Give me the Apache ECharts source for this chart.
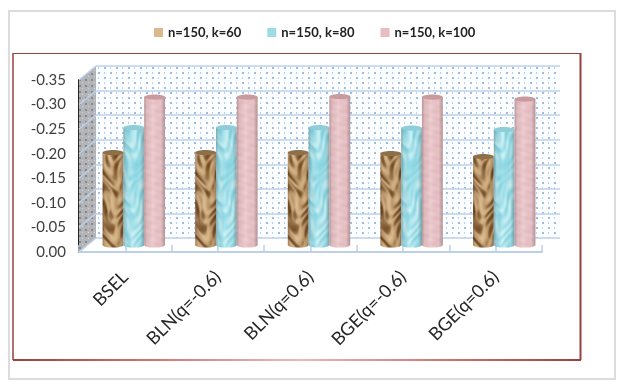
<!DOCTYPE html>
<html>
<head>
<meta charset="utf-8">
<style>html,body{margin:0;padding:0;background:#fff}#app{width:632px;height:385px}</style>
<script src="https://cdn.jsdelivr.net/npm/echarts@6/dist/echarts.min.js"></script>
</head>
<body>
<div id="app"></div>
<script>
const categories = ["BSEL", "BLN(q=-0.6)", "BLN(q=0.6)", "BGE(q=-0.6)", "BGE(q=0.6)"];
const k60 = [-0.188, -0.188, -0.188, -0.186, -0.180];
const k80 = [-0.239, -0.239, -0.239, -0.238, -0.235];
const k100 = [-0.301, -0.301, -0.302, -0.301, -0.297];
const yTicks = [0, -0.05, -0.1, -0.15, -0.2, -0.25, -0.3, -0.35];

const FONT = "Lato";
const GRID_BLUE = "#bcd0ea";

function clamp(v) {
  return Math.max(0, Math.min(255, v));
}

// small repeating textures, the picture's bars are filled with images
function texture(w, h, fn) {
  const c = document.createElement("canvas");
  c.width = w;
  c.height = h;
  const ctx = c.getContext("2d");
  const img = ctx.createImageData(w, h);
  for (let y = 0; y < h; y++) {
    for (let x = 0; x < w; x++) {
      const rgb = fn(x, y);
      const i = (y * w + x) * 4;
      img.data[i] = clamp(rgb[0]);
      img.data[i + 1] = clamp(rgb[1]);
      img.data[i + 2] = clamp(rgb[2]);
      img.data[i + 3] = 255;
    }
  }
  ctx.putImageData(img, 0, 0);
  return c;
}

// layered waves give the crumpled look without visible stripes
function crumple(a, b) {
  const p = a + 0.7 * Math.sin(2 * b + Math.sin(3 * a));
  const q = b + 0.7 * Math.sin(3 * a - Math.sin(2 * b));
  return (
    Math.sin(4 * p + 3 * q) * 0.45 +
    Math.sin(3 * p - 6 * q + 1) * 0.35 +
    Math.sin(9 * q + 2 * p + 2) * 0.2
  );
}

const brownTex = texture(92, 120, (x, y) => {
  const t = crumple((x / 92) * Math.PI * 2, (y / 120) * Math.PI * 2);
  const s = Math.sign(t) * Math.pow(Math.abs(t), 0.7);
  return [170 + 60 * s, 132 + 64 * s, 86 + 60 * s];
});
const blueTex = texture(92, 120, (x, y) => {
  const t = crumple((x / 92) * Math.PI * 2 + 1, (y / 120) * Math.PI * 2 + 2);
  return [160 + 40 * t, 226 + 16 * t, 236 + 10 * t];
});
const pinkTex = texture(92, 60, (x, y) => {
  const a = (x / 92) * Math.PI * 2;
  const b = (y / 60) * Math.PI * 2;
  const t = Math.sin(5 * b + 2 * a + Math.sin(3 * a)) * 0.5 + Math.sin(9 * b - 4 * a) * 0.5;
  return [234 + 4 * t, 196 + 6 * t, 200 + 6 * t];
});

const wallDots = (function () {
  const c = document.createElement("canvas");
  c.width = 24;
  c.height = 20;
  const ctx = c.getContext("2d");
  ctx.fillStyle = "#fdfeff";
  ctx.fillRect(0, 0, 24, 20);
  for (let y = 0; y < 4; y++) {
    for (let x = 0; x < 4; x++) {
      const strong = (x + y) % 2 === 0;
      ctx.fillStyle = strong ? "#9dbde7" : "#c0d4f0";
      ctx.fillRect(x * 6 + 2, y * 5 + 2, strong ? 2 : 1, 2);
    }
  }
  return c;
})();

const sideDots = (function () {
  const c = document.createElement("canvas");
  c.width = 6;
  c.height = 6;
  const ctx = c.getContext("2d");
  ctx.fillStyle = "#b2b4b7";
  ctx.fillRect(0, 0, 6, 6);
  ctx.fillStyle = "#85878b";
  ctx.fillRect(1, 1, 2, 2);
  ctx.fillStyle = "#d4d6d9";
  ctx.fillRect(4, 4, 1, 1);
  return c;
})();

function cylinder(index, tex, topColor) {
  return function (params, api) {
    const cat = api.value(0);
    const base = api.coord([cat, 0]);
    const top = api.coord([cat, api.value(1)]);
    const band = api.size([1, 0])[0];
    const w = band * 0.2245;
    const x = base[0] + (index - 1.5) * w;
    const ry = 2.6;
    const shade = {
      type: "linear", x: 0, y: 0, x2: 1, y2: 0,
      colorStops: [
        { offset: 0, color: "rgba(60,40,40,0.30)" },
        { offset: 0.12, color: "rgba(60,40,40,0.08)" },
        { offset: 0.42, color: "rgba(255,255,255,0.10)" },
        { offset: 0.8, color: "rgba(60,40,40,0.03)" },
        { offset: 1, color: "rgba(60,40,40,0.32)" }
      ]
    };
    const body = { x: x, y: top[1], width: w, height: base[1] - top[1] };
    const foot = { cx: x + w / 2, cy: base[1], rx: w / 2, ry: ry };
    return {
      type: "group",
      children: [
        { type: "ellipse", shape: foot, style: { fill: { image: tex, repeat: "repeat" } } },
        { type: "ellipse", shape: foot, style: { fill: shade } },
        { type: "rect", shape: body, style: { fill: { image: tex, repeat: "repeat" } } },
        { type: "rect", shape: body, style: { fill: shade } },
        { type: "ellipse", shape: { cx: x + w / 2, cy: top[1], rx: w / 2, ry: ry }, style: { fill: topColor } }
      ]
    };
  };
}

function barSeries(name, data, index, tex, legendColor, topColor) {
  return {
    name: name,
    type: "custom",
    xAxisIndex: 2,
    yAxisIndex: 1,
    itemStyle: { color: legendColor },
    encode: { x: 0, y: 1 },
    renderItem: cylinder(index, tex, topColor),
    data: data.map((v, i) => [i, v])
  };
}

const yBase = { type: "value", inverse: true, min: -0.35, max: 0, interval: 0.05 };
const hiddenY = Object.assign({}, yBase, {
  axisLine: { show: false },
  axisTick: { show: false },
  axisLabel: { show: false },
  splitLine: { show: false }
});

const frameDark = "#97413f";

const chart = echarts.init(document.getElementById("app"));
chart.setOption({
  animation: false,
  backgroundColor: "#fff",
  textStyle: { fontFamily: FONT },
  legend: {
    left: 149,
    top: 21,
    itemWidth: 9,
    itemHeight: 9,
    itemGap: 26,
    icon: "rect",
    textStyle: { fontFamily: FONT, fontWeight: "bold", fontSize: 13, color: "#222" },
    data: ["n=150, k=60", "n=150, k=80", "n=150, k=100"]
  },
  grid: [
    { left: 79, width: 463, top: 80, height: 172 },
    { left: 87.5, width: 463, top: 73, height: 172 },
    { left: 96, width: 464, top: 66, height: 172, show: true, borderWidth: 0, backgroundColor: { image: wallDots, repeat: "repeat" } }
  ],
  xAxis: [
    {
      type: "category",
      gridIndex: 0,
      position: "bottom",
      data: categories,
      axisLine: { show: false },
      axisTick: { show: false },
      axisLabel: { rotate: 45, fontSize: 18, color: "#262626", margin: 22, fontFamily: FONT, interval: 0 }
    },
    {
      // half-category ticks along the front floor edge
      type: "value",
      gridIndex: 0,
      position: "bottom",
      min: 0,
      max: 5,
      interval: 0.5,
      axisLine: { show: true, onZero: false, lineStyle: { color: GRID_BLUE, width: 2 } },
      axisTick: { show: true, inside: true, length: 7, lineStyle: { color: GRID_BLUE, width: 1.5 } },
      axisLabel: { show: false },
      splitLine: { show: false }
    },
    {
      type: "category",
      gridIndex: 1,
      data: categories,
      axisLine: { show: false },
      axisTick: { show: false },
      axisLabel: { show: false }
    },
    {
      type: "category",
      gridIndex: 2,
      data: categories,
      axisLine: { show: false },
      axisTick: { show: false },
      axisLabel: { show: false }
    }
  ],
  yAxis: [
    Object.assign({}, yBase, {
      gridIndex: 0,
      axisLine: { show: true, onZero: false, lineStyle: { color: "#222", width: 2 } },
      axisTick: { show: false },
      splitLine: { show: false },
      axisLabel: { fontSize: 15, color: "#404040", margin: 13, fontFamily: FONT, formatter: (v) => v.toFixed(2) }
    }),
    Object.assign({}, hiddenY, { gridIndex: 1 }),
    Object.assign({}, hiddenY, {
      gridIndex: 2,
      splitLine: { show: true, lineStyle: { color: GRID_BLUE, width: 1.5 } }
    })
  ],
  series: [
    barSeries("n=150, k=60", k60, 0, brownTex, "#dcb98c", "#8f6f47"),
    barSeries("n=150, k=80", k80, 1, blueTex, "#9fdbe6", "#8fcdd8"),
    barSeries("n=150, k=100", k100, 2, pinkTex, "#e8bcc0", "#c99a9e")
  ]
});

// side wall, floor edge and the two frames, placed from the axes' own scales
function wallPoint(tick) {
  const f = chart.convertToPixel({ yAxisIndex: 0 }, tick);
  const b = chart.convertToPixel({ yAxisIndex: 2 }, tick);
  return [[79, f], [96, b]];
}
const low = wallPoint(0);
const high = wallPoint(-0.35);
const wallShapes = [
  {
    type: "polygon",
    z: 1,
    shape: { points: [high[0], high[1], low[1], low[0]] },
    style: { fill: { image: sideDots, repeat: "repeat" } }
  }
];
yTicks.forEach((t) => {
  const p = wallPoint(t);
  wallShapes.push({
    type: "line",
    z: 1,
    shape: { x1: p[0][0], y1: p[0][1], x2: p[1][0], y2: p[1][1] },
    style: { stroke: GRID_BLUE, lineWidth: 1.5 }
  });
});

function edge(x1, y1, x2, y2, stroke, lineWidth) {
  return {
    type: "line",
    z: -1,
    shape: { x1: x1, y1: y1, x2: x2, y2: y2 },
    style: { stroke: stroke, lineWidth: lineWidth }
  };
}
const bottomFade = {
  type: "linear", x: 0, y: 0, x2: 1, y2: 0,
  colorStops: [
    { offset: 0, color: frameDark },
    { offset: 0.25, color: "#cf7773" },
    { offset: 0.5, color: "#ecb9b8" },
    { offset: 0.75, color: "#cf7773" },
    { offset: 1, color: frameDark }
  ]
};

chart.setOption({
  graphic: wallShapes.concat([
    {
      type: "rect",
      z: -1,
      shape: { x: 9, y: 11, width: 606, height: 368 },
      style: { fill: "#fff", stroke: "#dcdcdc", lineWidth: 2 }
    },
    edge(13, 53.5, 581, 53.5, frameDark, 1.2),
    edge(13, 53, 13, 360, frameDark, 1.5),
    edge(580.5, 53, 580.5, 360, frameDark, 2),
    edge(13, 360, 581, 360, bottomFade, 2)
  ])
});
</script>
</body>
</html>
